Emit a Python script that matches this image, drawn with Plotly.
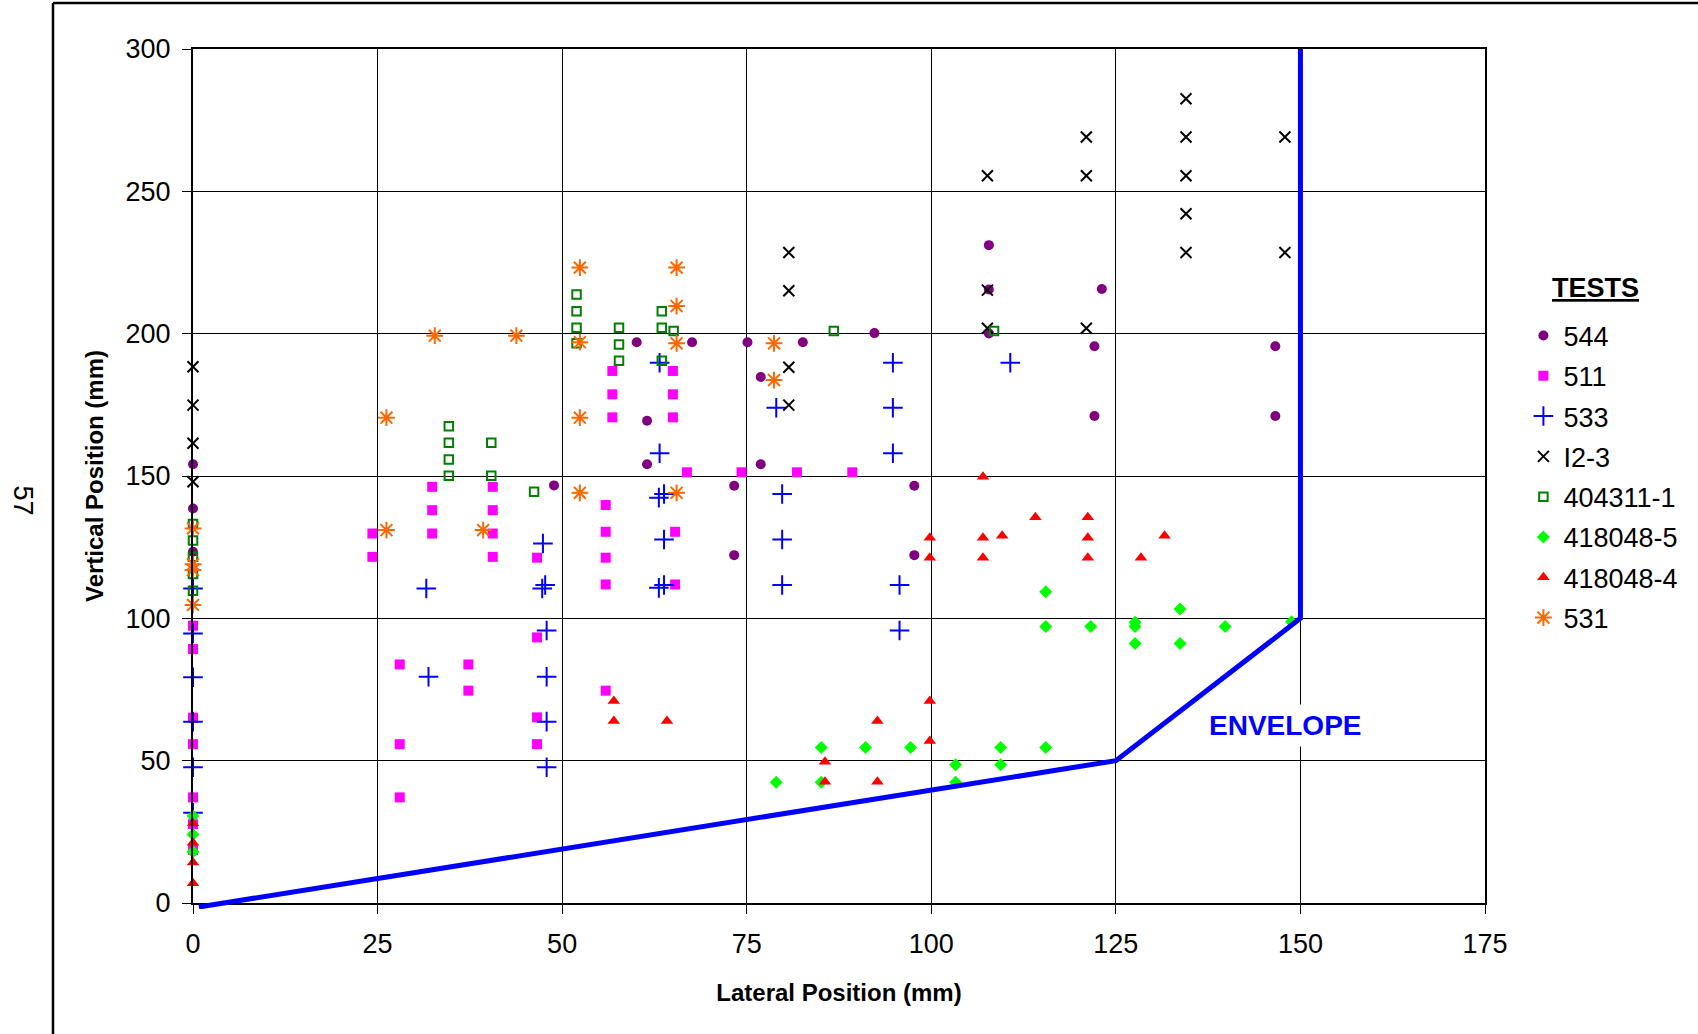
import plotly.graph_objects as go

# ---------------- data ----------------
s544_x = [0, 0, 0, 48.9, 60.1, 61.5, 61.5, 67.6, 73.3, 73.3, 75.1, 76.9, 76.9, 82.6, 92.3,
          97.7, 97.7, 107.8, 107.8, 107.8, 122.1, 122.1, 123.1, 146.6, 146.6]
s544_y = [154.1, 138.6, 123.4, 146.7, 197, 169.4, 154.1, 197, 146.6, 122.2, 197, 184.8, 154.1, 197, 200.2,
          146.6, 122.2, 231.1, 215.5, 200.1, 195.6, 171.1, 215.7, 195.6, 171.1]

s511_x = [0, 0, 0, 0, 0, 0, 0, 24.3, 24.3, 28, 28, 28, 32.4, 32.4, 32.4, 37.3, 37.3,
          40.6, 40.6, 40.6, 40.6, 46.6, 46.6, 46.6, 46.6, 55.9, 55.9, 55.9, 55.9, 55.9,
          56.8, 56.8, 56.8, 65, 65, 65, 65.3, 65.3, 66.9, 74.3, 81.8, 89.3]
s511_y = [97.4, 89.2, 65.1, 55.8, 37.1, 27.7, 18.6, 129.8, 121.6, 83.8, 55.8, 37.1, 146.2, 138, 129.8, 83.8, 74.6,
          146.2, 138, 129.8, 121.6, 121.3, 93.3, 65.2, 55.8, 139.8, 130.4, 121.3, 111.9, 74.6,
          186.9, 178.7, 170.6, 186.9, 178.7, 170.6, 130.4, 111.9, 151.3, 151.3, 151.3, 151.3]

s533_x = [0, 0, 0, 0, 0, 0, 31.6, 31.9, 47.4, 47.7, 47.3, 47.9, 47.9, 47.9, 47.9,
          63.2, 63.2, 63.8, 63.1, 63.8, 63.8, 63.1, 79, 79.8, 79.8, 79.8,
          94.8, 94.8, 94.8, 95.7, 95.7, 110.7]
s533_y = [110.5, 94.7, 79.3, 63.7, 47.7, 31.7, 110.5, 79.5, 126.3, 111.7, 110.5, 95.7, 79.5, 63.7, 47.7,
          189.8, 158, 143.7, 142.4, 127.7, 111.7, 110.7, 174, 143.7, 127.7, 111.7,
          189.8, 174, 158, 111.7, 95.7, 189.8]

s_i23_x = [0, 0, 0, 0, 80.7, 80.7, 80.7, 80.7, 107.6, 107.6, 107.6, 121, 121, 121,
           134.5, 134.5, 134.5, 134.5, 134.5, 147.9, 147.9]
s_i23_y = [188.4, 174.9, 161.5, 148, 228.5, 215.1, 188.2, 174.9, 255.5, 215.3, 201.9, 269.1, 255.5, 201.9,
           282.5, 269.1, 255.5, 242.1, 228.5, 269.1, 228.5]

s404311_x = [0, 0, 0, 0, 0, 34.65, 34.65, 34.65, 34.65, 40.4, 40.4, 46.2, 51.95, 51.95, 51.95, 51.95,
             57.7, 57.7, 57.7, 63.5, 63.5, 63.5, 65.1, 86.8, 108.5]
s404311_y = [133.1, 127.3, 121.6, 115.6, 109.7, 167.5, 161.7, 155.8, 150.1, 161.7, 150.1, 144.5, 213.8, 207.9, 202.1, 196.6,
             202.1, 196.2, 190.5, 207.9, 202.1, 190.5, 200.9, 200.9, 200.9]

s418048_5_x = [0, 0, 0, 79, 85.1, 85.1, 91.1, 97.2, 103.3, 103.3, 109.4, 109.4, 115.5, 115.5, 115.5,
               121.6, 127.6, 127.6, 127.6, 133.7, 133.7, 139.8, 148.8]
s418048_5_y = [30.6, 24.1, 18.0, 42.4, 54.6, 42.4, 54.6, 54.6, 48.6, 42.4, 54.6, 48.6, 109.3, 97.1, 54.6,
               97.1, 98.6, 97.1, 91.2, 103.3, 91.2, 97.1, 98.8]

s418048_4_x = [0, 0, 0, 0, 57, 57, 64.2, 85.6, 85.6, 92.7, 92.7, 99.8, 99.8, 99.8, 99.8,
               107, 107, 107, 109.6, 114.1, 121.2, 121.2, 121.2, 128.4, 131.6]
s418048_4_y = [28, 21.2, 14.2, 6.9, 71, 63.9, 63.9, 49.6, 42.6, 63.9, 42.6, 71, 56.9, 128.3, 121.3,
               149.7, 128.3, 121.3, 129, 135.5, 135.5, 128.3, 121.3, 121.3, 129]

s531_x = [0, 0, 0, 0, 26.2, 26.2, 32.75, 39.3, 43.8, 52.4, 52.4, 52.4, 52.4,
          65.5, 65.5, 65.5, 65.5, 78.7, 78.7]
s531_y = [131.6, 119, 117, 104.7, 170.5, 131, 199.3, 131, 199.3, 223.2, 197, 170.5, 144.1,
          223.2, 209.7, 196.6, 144.1, 196.6, 183.7]

envelope_x = [0.8, 125, 150, 150]
envelope_y = [-1.4, 50, 100, 300]

x_ticks = [0, 25, 50, 75, 100, 125, 150, 175]
y_ticks = [0, 50, 100, 150, 200, 250, 300]

X_RANGE = [0, 175]
Y_RANGE = [0, 300]

FONT = "Liberation Sans, Arial, sans-serif"

# ---------------- geometry (pixels) ----------------
W, H = 1698, 1034
PLOT_L, PLOT_R, PLOT_T, PLOT_B = 193, 1485, 49, 903   # main plotting area
PAD = 6                                               # unclipped extra room for the envelope
ML = PLOT_L - PAD
MR = W - PLOT_R
MT = PLOT_T
MB = H - (PLOT_B + PAD)
AW = W - ML - MR
AH = H - MT - MB


def px(xp):
    return (xp - ML) / AW


def py(yp):
    return (PLOT_B + PAD - yp) / AH


x_dom = [PAD / AW, 1]
y_dom = [PAD / AH, 1]
xs_per_px = (X_RANGE[1] - X_RANGE[0]) / (PLOT_R - PLOT_L)
ys_per_px = (Y_RANGE[1] - Y_RANGE[0]) / (PLOT_B - PLOT_T)
x2_range = [X_RANGE[0] - PAD * xs_per_px, X_RANGE[1]]
y2_range = [Y_RANGE[0] - PAD * ys_per_px, Y_RANGE[1]]

fig = go.Figure()

series = [
    ("544", s544_x, s544_y, dict(symbol="circle", size=10, color="#800080")),
    ("511", s511_x, s511_y, dict(symbol="square", size=10, color="#FF00FF")),
    ("533", s533_x, s533_y, dict(symbol="cross-thin", size=14, color="#0000FF",
                                 line=dict(color="#0000FF", width=2))),
    ("I2-3", s_i23_x, s_i23_y, dict(symbol="x-thin", size=11, color="#000000",
                                    line=dict(color="#000000", width=2))),
    ("404311-1", s404311_x, s404311_y, dict(symbol="square-open", size=8.5, color="#008000",
                                            line=dict(color="#008000", width=2))),
    ("418048-5", s418048_5_x, s418048_5_y, dict(symbol="diamond", size=10, color="#00FF00")),
    ("418048-4", s418048_4_x, s418048_4_y, dict(symbol="triangle-up", size=11, color="#FF0000")),
    ("531", s531_x, s531_y, dict(symbol="asterisk-open", size=14, color="#FF6600",
                                 line=dict(color="#FF6600", width=2))),
]
for name, xs, ys, mk in series:
    fig.add_trace(go.Scatter(x=xs, y=ys, mode="markers", name=name, marker=mk,
                             cliponaxis=False, legendgroup=name))

# envelope drawn on an overlay axis pair covering a few extra pixels so it is not clipped
fig.add_trace(go.Scatter(x=envelope_x, y=envelope_y, mode="lines", xaxis="x2", yaxis="y2",
                         line=dict(color="#0000FF", width=5), showlegend=False,
                         hoverinfo="skip"))

axis_common = dict(
    showline=True, linecolor="#000000", linewidth=2, mirror=True,
    showgrid=True, gridcolor="#000000", gridwidth=1, zeroline=False,
    ticks="outside", ticklen=9, tickcolor="#000000", tickwidth=1,
    tickfont=dict(family=FONT, size=27, color="#000000"), automargin=False,
)

fig.update_layout(
    xaxis=dict(range=X_RANGE, domain=x_dom, tickvals=x_ticks, ticklabelstandoff=7,
               title=dict(text="<b>Lateral Position (mm)</b>", standoff=26,
                          font=dict(family=FONT, size=24, color="#000000")),
               **axis_common),
    yaxis=dict(range=Y_RANGE, domain=y_dom, tickvals=y_ticks, ticklabelstandoff=6,
               title=dict(text="<b>Vertical Position (mm)</b>", standoff=15,
                          font=dict(family=FONT, size=24, color="#000000")),
               **axis_common),
    xaxis2=dict(range=x2_range, domain=[0, 1], anchor="y2", visible=False, fixedrange=True),
    yaxis2=dict(range=y2_range, domain=[0, 1], anchor="x2", visible=False, fixedrange=True),
)

fig.add_annotation(x=147.9, y=62.2, xref="x", yref="y", text="<b>ENVELOPE</b>",
                   showarrow=False, bgcolor="#FFFFFF", borderpad=5,
                   font=dict(family=FONT, size=28, color="#0000FF"))

fig.add_annotation(x=px(22.5), y=py(501), xref="paper", yref="paper", text="57",
                   textangle=90, showarrow=False, xanchor="center", yanchor="middle",
                   font=dict(family=FONT, size=27, color="#000000"))

fig.add_annotation(x=px(1595), y=py(288), xref="paper", yref="paper",
                   text="<b><u>TESTS</u></b>", showarrow=False,
                   xanchor="center", yanchor="middle",
                   font=dict(family=FONT, size=27, color="#000000"))

# outer page frame
fig.add_shape(type="line", xref="paper", yref="paper", x0=px(53), y0=py(H + 20), x1=px(53), y1=py(3),
              line=dict(color="#000000", width=2.5))
fig.add_shape(type="line", xref="paper", yref="paper", x0=px(53), y0=py(3), x1=px(W + 20), y1=py(3),
              line=dict(color="#000000", width=2.5))

fig.update_layout(
    width=W, height=H,
    margin=dict(l=ML, r=MR, t=MT, b=MB, autoexpand=False),
    paper_bgcolor="#FFFFFF", plot_bgcolor="rgba(0,0,0,0)",
    font=dict(family=FONT, color="#000000"),
    legend=dict(x=px(1523.4), y=py(311.4), xanchor="left", yanchor="top",
                bgcolor="rgba(0,0,0,0)", tracegroupgap=2.2,
                font=dict(family=FONT, size=27, color="#000000")),
    showlegend=True,
)

fig.write_html("out.html", config={"displayModeBar": False},
               post_script="document.body.style.margin='0px';")
